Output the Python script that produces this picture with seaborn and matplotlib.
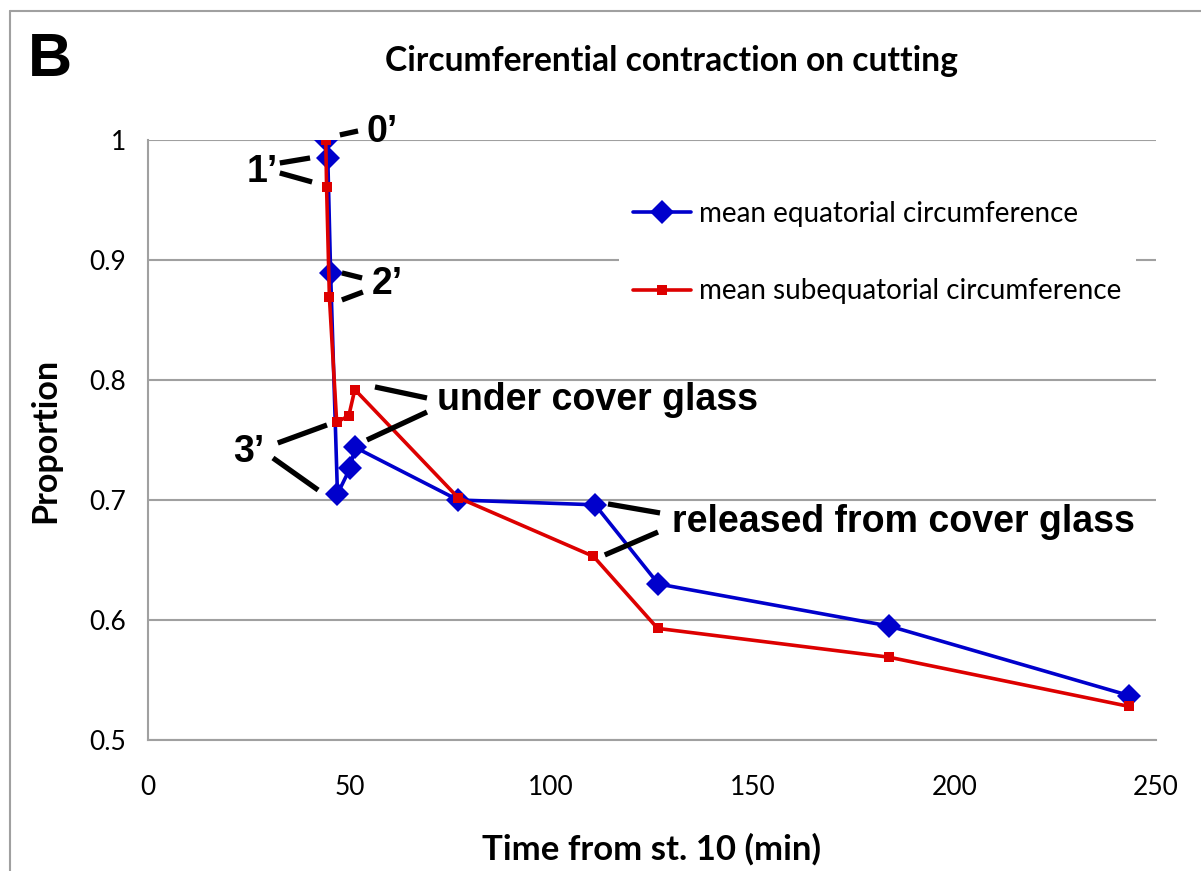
import matplotlib
matplotlib.use("Agg")
import matplotlib.pyplot as plt
from matplotlib.lines import Line2D
import seaborn as sns
import pandas as pd

# Time after stage 10 (min) and relative circumference
eq_time = [44.1, 44.6, 45.3, 47.0, 50.2, 51.3, 76.9, 110.9, 126.6, 183.8, 243.4]
eq_prop = [1.000, 0.985, 0.889, 0.705, 0.727, 0.744, 0.700, 0.696, 0.630, 0.595, 0.537]
sub_time = [44.1, 44.3, 45.0, 46.8, 49.8, 51.3, 76.9, 110.5, 126.4, 183.8, 243.3]
sub_prop = [1.000, 0.961, 0.869, 0.765, 0.770, 0.792, 0.702, 0.653, 0.593, 0.569, 0.528]

series_names = ["mean equatorial circumference", "mean subequatorial circumference"]
title = "Circumferential contraction on cutting"
x_ticks = [0, 50, 100, 150, 200, 250]
y_ticks = [0.5, 0.6, 0.7, 0.8, 0.9, 1.0]
y_tick_labels = ["0.5", "0.6", "0.7", "0.8", "0.9", "1"]

# Callout labels: text, anchor (x, y), alignment, and the leader segments
callouts = [
    ("0\u2019", (54.3, 1.0067), "left",
     [((47.6, 1.0042), (52.1, 1.0075))]),
    ("1\u2019", (32.2, 0.9733), "right",
     [((32.7, 0.9808), (40.2, 0.9850)), ((32.7, 0.9725), (40.7, 0.9650))]),
    ("2\u2019", (55.6, 0.8800), "left",
     [((48.1, 0.8892), (53.1, 0.8850)), ((48.1, 0.8667), (53.3, 0.8733))]),
    ("3\u2019", (28.8, 0.7400), "right",
     [((32.2, 0.7475), (44.4, 0.7625)), ((31.0, 0.7350), (42.2, 0.7083))]),
    ("under cover glass", (71.7, 0.7833), "left",
     [((56.3, 0.7942), (69.2, 0.7850)), ((54.3, 0.7500), (69.2, 0.7733))]),
    ("released from cover glass", (130.0, 0.6817), "left",
     [((114.1, 0.6967), (127.0, 0.6892)), ((113.3, 0.6542), (126.5, 0.6733))]),
]

sns.set_theme(style="white")
plt.rcParams["font.family"] = ["Lato", "DejaVu Sans"]
plt.rcParams["text.color"] = "black"
plt.rcParams["axes.labelcolor"] = "black"
plt.rcParams["axes.titlecolor"] = "black"

fig = plt.figure(figsize=(12.01, 8.71), dpi=100)
ax = fig.add_axes([0.1232, 0.1504, 0.8393, 0.6889])

df_eq = pd.DataFrame({"time": eq_time, "proportion": eq_prop})
df_sub = pd.DataFrame({"time": sub_time, "proportion": sub_prop})

blue = "#0000CC"
red = "#DD0000"
sns.lineplot(data=df_eq, x="time", y="proportion", ax=ax, color=blue, lw=2.6,
             marker="D", markersize=12.5, markeredgewidth=0, sort=False,
             estimator=None, label=series_names[0], zorder=3)
sns.lineplot(data=df_sub, x="time", y="proportion", ax=ax, color=red, lw=2.6,
             marker="s", markersize=6.5, markeredgewidth=0, sort=False,
             estimator=None, label=series_names[1], zorder=4)

gray = "#A0A0A0"
ax.set_xlim(0, 250)
ax.set_ylim(0.5, 1.0)
ax.set_xticks(x_ticks)
ax.set_xticklabels([str(t) for t in x_ticks])
ax.set_yticks(y_ticks)
ax.set_yticklabels(y_tick_labels)
ax.yaxis.grid(True, color=gray, lw=1.5)
ax.xaxis.grid(False)
ax.set_axisbelow(True)
for side in ("top", "right"):
    ax.spines[side].set_visible(False)
for side in ("left", "bottom"):
    ax.spines[side].set_color(gray)
    ax.spines[side].set_linewidth(1.5)
ax.tick_params(axis="both", which="major", direction="out", length=7,
               width=1.5, color=gray, labelsize=19, labelcolor="black")
ax.tick_params(axis="x", pad=18)
ax.tick_params(axis="y", pad=9)

ax.set_xlabel("Time from st. 10 (min)", fontsize=25, fontweight="bold", labelpad=24)
ax.set_ylabel("Proportion", fontsize=24.5, fontweight="bold", labelpad=20)
ax.set_title(title, fontsize=24.2, fontweight="bold", pad=50, x=0.519)

leg = ax.legend(loc="center left", bbox_to_anchor=(0.467, 0.812), borderaxespad=0,
                frameon=True, facecolor="white", edgecolor="none", framealpha=1,
                fontsize=20, handlelength=2.1, handletextpad=0.3, labelspacing=1.85,
                borderpad=0.5)
leg.get_frame().set_boxstyle("square", pad=0)

for text, (tx, ty), ha, segments in callouts:
    for (x0, y0), (x1, y1) in segments:
        ax.plot([x0, x1], [y0, y1], color="black", lw=3.8, clip_on=False,
                solid_capstyle="butt", zorder=5)
    ax.text(tx, ty, text, ha=ha, va="center", fontsize=27, fontweight="bold",
            color="black", family=["Liberation Sans", "DejaVu Sans"],
            clip_on=False, zorder=6)

# Panel letter and frame edges
fig.text(0.023, 0.930, "B", fontsize=44, fontweight="bold", color="black",
         family=["Liberation Sans", "DejaVu Sans"], ha="left", va="center")
fig.add_artist(Line2D([0.0083, 0.0083], [0.0, 0.9874], color=gray, lw=1.5,
                      transform=fig.transFigure))
fig.add_artist(Line2D([0.0083, 1.0], [0.9874, 0.9874], color=gray, lw=1.5,
                      transform=fig.transFigure))

fig.savefig("out.png", dpi=100)
